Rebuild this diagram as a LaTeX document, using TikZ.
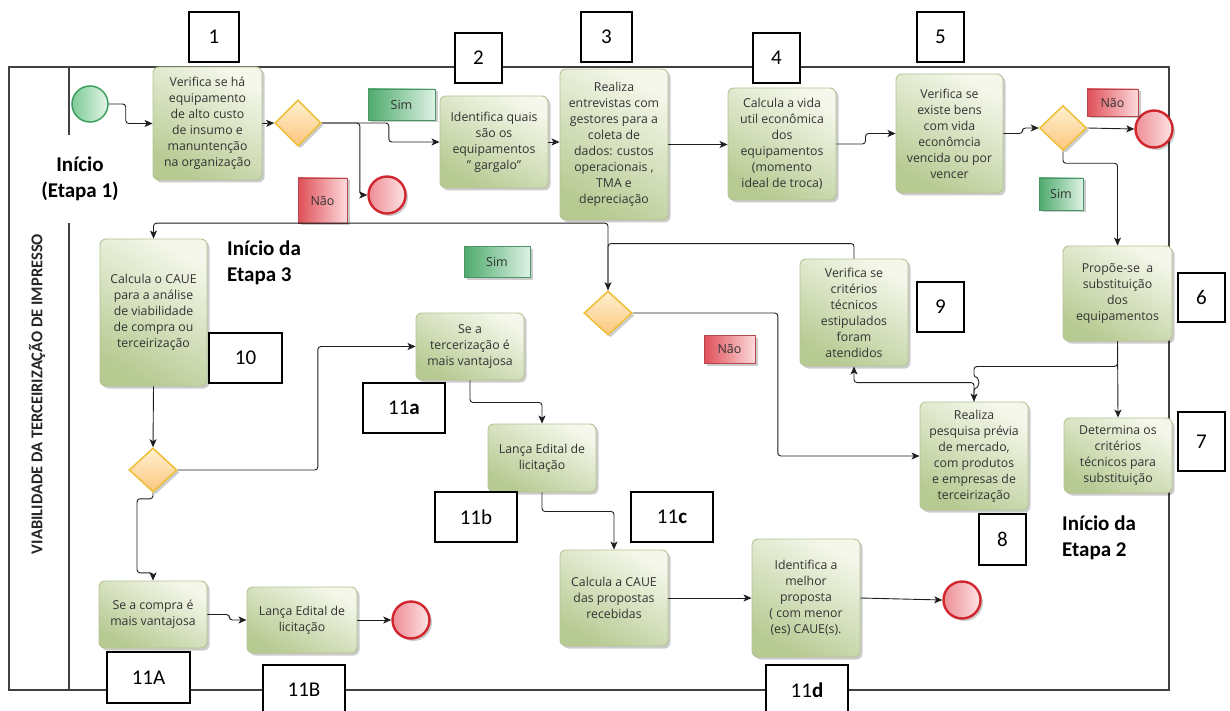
\documentclass[tikz,border=0pt]{standalone}
\usepackage{fontspec}
\setmainfont{Open Sans}
\newfontfamily\calfont{Carlito}
\usetikzlibrary{shapes.geometric,arrows.meta,shadows,calc}

\definecolor{taskhi}{HTML}{F4F7EA}
\definecolor{tasklo}{HTML}{B7CA92}
\definecolor{taskline}{HTML}{B3C393}
\definecolor{gwhi}{HTML}{FFF1D0}
\definecolor{gwlo}{HTML}{FBC67E}
\definecolor{gwline}{HTML}{EEC03C}
\definecolor{starthi}{HTML}{E6F6EA}
\definecolor{startlo}{HTML}{7CCB95}
\definecolor{startline}{HTML}{3E9F5E}
\definecolor{endhi}{HTML}{FDE3E4}
\definecolor{endlo}{HTML}{EE8E95}
\definecolor{endline}{HTML}{D2262F}
\definecolor{simhi}{HTML}{DDF2E4}
\definecolor{simlo}{HTML}{4DAA6C}
\definecolor{simline}{HTML}{4C9467}
\definecolor{naohi}{HTML}{FCDADC}
\definecolor{naolo}{HTML}{DF4F57}
\definecolor{naoline}{HTML}{B5464C}
\definecolor{flowline}{HTML}{1E1E1E}
\definecolor{poolline}{HTML}{404040}

\begin{document}
\begin{tikzpicture}[x=1pt,y=-1pt,
  shadowed/.style={drop shadow={shadow xshift=2.5pt,shadow yshift=-2.5pt,opacity=0.2,fill=black}},
  task/.style={shadowed, draw=taskline, line width=0.9pt, rounded corners=6pt,
    shading=axis, top color=taskhi, bottom color=tasklo, shading angle=-30,
    align=center, inner sep=2pt, text=black!80,
    font=\fontsize{12.3}{16}\selectfont},
  gateway/.style={diamond, shadowed, draw=gwline, line width=1.6pt,
    top color=gwhi, bottom color=gwlo, inner sep=0pt},
  startev/.style={circle, draw=startline, line width=1.5pt,
    left color=startlo, right color=starthi, minimum size=36pt, inner sep=0pt},
  endev/.style={circle, shadowed, draw=endline, line width=2.4pt,
    left color=endlo, right color=endhi, minimum size=37pt, inner sep=0pt},
  simlbl/.style={shadowed, draw=simline, line width=0.7pt,
    left color=simlo, right color=simhi, inner sep=0pt,
    font=\fontsize{12.5}{14}\selectfont, text=black!80},
  naolbl/.style={shadowed, draw=naoline, line width=0.7pt,
    left color=naolo, right color=naohi, inner sep=0pt,
    font=\fontsize{12.5}{14}\selectfont, text=black!80},
  numbox/.style={draw=black, line width=1.1pt, fill=white, inner sep=0pt,
    font=\calfont\fontsize{21}{24}\selectfont},
  heading/.style={font=\calfont\bfseries\fontsize{21}{26}\selectfont, inner sep=1pt},
  flow/.style={draw=flowline, line width=0.9pt, rounded corners=3pt,
    -{Stealth[length=8pt,width=7pt,inset=2pt]}}
]
\useasboundingbox (0,0) rectangle (1230,711);

% pool and lane
\draw[poolline, line width=1.1pt] (9,67) rectangle (1169,690);
\draw[poolline, line width=1.1pt] (69,67) -- (69,690);
\node[rotate=90, font=\calfont\bfseries\fontsize{16.5}{20}\selectfont, text=black!85]
  (poolname) at (37,394) {VIABILIDADE DA TERCEIRIZAÇÃO DE IMPRESSO};

% stage headings
\node[heading, fill=white, align=center, minimum height=88pt] (stage1) at (80,179) {Início\\(Etapa 1)};
\node[heading, align=left, anchor=north west] (stage3) at (226,240) {Início da\\Etapa 3};
\node[heading, align=left, anchor=north west] (stage2) at (1061,515) {Início da\\Etapa 2};

% events
\node[startev] (s) at (90,104) {};
\node[endev] (e1) at (387,195) {};
\node[endev] (e2) at (1154,129) {};
\node[endev] (e3) at (411,620) {};
\node[endev] (e4) at (962,600) {};

% gateways
\node[gateway, minimum width=46pt, minimum height=46pt] (g1) at (298,123) {};
\node[gateway, minimum width=47pt, minimum height=45pt] (g2) at (1063,128) {};
\node[gateway, minimum width=48pt, minimum height=44pt] (g3) at (608,313) {};
\node[gateway, minimum width=48pt, minimum height=44pt] (g4) at (153,470) {};

% tasks
\node[task, minimum width=109pt, minimum height=113pt] (t1) at (207.5,123.5)
  {Verifica se há\\equipamento\\de alto custo\\de insumo e\\manuntenção\\na organização};
\node[task, minimum width=108pt, minimum height=92pt] (t2) at (494,142)
  {Identifica quais\\são os\\equipamentos\\" gargalo"};
\node[task, minimum width=108pt, minimum height=151pt] (t3) at (614,144.5)
  {Realiza\\entrevistas com\\gestores para a\\coleta de\\dados: custos\\operacionais ,\\TMA e\\depreciação};
\node[task, minimum width=108pt, minimum height=112pt] (t4) at (782,144)
  {Calcula a vida\\util econômica\\dos\\equipamentos\\(momento\\ideal de troca)};
\node[task, minimum width=107pt, minimum height=119pt] (t5) at (949.5,133.5)
  {Verifica se\\existe bens\\com vida\\econômcia\\vencida ou por\\vencer};
\node[task, minimum width=109pt, minimum height=95pt] (t6) at (1117.5,293.5)
  {Propõe-se~ a\\substituição\\dos\\equipamentos};
\node[task, minimum width=108pt, minimum height=75pt] (t7) at (1118,455.5)
  {Determina os\\critérios\\técnicos para\\substituição};
\node[task, minimum width=108pt, minimum height=108pt] (t8) at (974,456)
  {Realiza\\pesquisa prévia\\de mercado,\\com produtos\\e empresas de\\terceirização};
\node[task, minimum width=108pt, minimum height=107pt] (t9) at (854,312.5)
  {Verifica se\\critérios\\técnicos\\estipulados\\foram\\atendidos};
\node[task, minimum width=107pt, minimum height=147pt] (t10) at (153.5,312.5)
  {Calcula o CAUE\\para a análise\\de viabilidade\\de compra ou\\terceirização};
\node[task, minimum width=108pt, minimum height=67pt] (t11a) at (470,346.5)
  {Se a\\tercerização é\\mais vantajosa};
\node[task, minimum width=108pt, minimum height=68pt] (t11b) at (542,458)
  {Lança Edital de\\licitação};
\node[task, minimum width=108pt, minimum height=96pt] (t11c) at (614,598)
  {Calcula a CAUE\\das propostas\\recebidas};
\node[task, minimum width=108pt, minimum height=118pt] (t11d) at (806,598)
  {Identifica a\\melhor\\proposta\\( com menor\\(es) CAUE(s).};
\node[task, minimum width=108pt, minimum height=67pt] (t11A) at (153,614.5)
  {Se a compra é\\mais vantajosa};
\node[task, minimum width=110pt, minimum height=66pt] (t11B) at (302,620)
  {Lança Edital de\\licitação};

% branch labels
\node[simlbl, minimum width=67pt, minimum height=31pt] (sim1) at (401.5,104.5) {Sim};
\node[naolbl, minimum width=49pt, minimum height=45pt] (nao1) at (322.5,200.5) {Não};
\node[naolbl, minimum width=51pt, minimum height=27pt] (nao2) at (1112.5,102.5) {Não};
\node[simlbl, minimum width=44pt, minimum height=32pt] (sim2) at (1061,194) {Sim};
\node[simlbl, minimum width=66pt, minimum height=31pt] (sim3) at (497,261.5) {Sim};
\node[naolbl, minimum width=51pt, minimum height=28pt] (nao3) at (729.5,349) {Não};

% connectors
\draw[flow] (s.east) -- ++(17,0) |- (t1.west);
\draw[flow] (t1.east) -- (g1.west);
\draw[flow] (g1.east) -- ++(38,0) |- (e1.west);
\draw[flow] (g1.east) -- ++(67,0) |- (t2.west);
\draw[flow] (t2.east) -- (t3.west |- t2.east);
\draw[flow] (t3.east) -- (t4.west |- t3.east);
\draw[flow] (t4.east) -- ++(29,0) |- (t5.west);
\draw[flow] (t5.east) -- ++(19,0) |- (g2.west);
\draw[flow] (g2.east) -- (e2.west);
\draw[flow] (g2.south) -- ++(0,12) -| (t6.north);
\draw[flow] (t6.south) -- (t7.north);
\draw[flow] (t6.south) -- ++(0,25) -| ($(t8.north)+(0,-24)$)
  arc[start angle=-90, end angle=90, radius=5] -- (t8.north);
\draw[flow] (t8.north) -- ++(0,-19) -| (t9.south);
\draw[flow] (t9.north) -- ++(0,-15) -| (g3.north);
\draw[flow] (g3.north) -- ++(0,-67) -| (t10.north);
\draw[flow] (g3.east) -- ++(145,0) |- (t8.west);
\draw[flow] (t10.south) -- (g4.north);
\draw[flow] (g4.east) -- ++(140,0) |- (t11a.west);
\draw[flow] (t11a.south) -- ++(0,22) -| (t11b.north);
\draw[flow] (t11b.south) -- ++(0,19) -| (t11c.north);
\draw[flow] (t11c.east) -- (t11d.west);
\draw[flow] (t11d.east) -- (e4.west);
\draw[flow] (g4.south) -- ++(0,6) -- ++(-16,0) -- ++(0,74) -- ++(16,0) -- (t11A.north);
\draw[flow] (t11A.east) -- ++(22,0) |- (t11B.west);
\draw[flow] (t11B.east) -- (e3.west);

% step numbers
\node[numbox, minimum width=50pt, minimum height=50pt] (n1) at (214,37) {1};
\node[numbox, minimum width=47pt, minimum height=50pt] (n2) at (478.5,58) {2};
\node[numbox, minimum width=51pt, minimum height=50pt] (n3) at (606.5,37) {3};
\node[numbox, minimum width=47pt, minimum height=50pt] (n4) at (776.5,58) {4};
\node[numbox, minimum width=47pt, minimum height=50pt] (n5) at (940.5,37) {5};
\node[numbox, minimum width=47pt, minimum height=49pt] (n6) at (1201.5,297.5) {6};
\node[numbox, minimum width=47pt, minimum height=59pt] (n7) at (1201.5,441.5) {7};
\node[numbox, minimum width=47pt, minimum height=51pt] (n8) at (1002.5,539.5) {8};
\node[numbox, minimum width=47pt, minimum height=50pt] (n9) at (940.5,307) {9};
\node[numbox, minimum width=73pt, minimum height=50pt] (n10) at (245.5,358) {10};
\node[numbox, minimum width=82pt, minimum height=50pt] (n11a) at (404,408) {11\textbf{a}};
\node[numbox, minimum width=82pt, minimum height=50pt] (n11b) at (476,517) {11b};
\node[numbox, minimum width=82pt, minimum height=50pt] (n11c) at (672,517) {11\textbf{c}};
\node[numbox, minimum width=82pt, minimum height=50pt] (n11d) at (807,690) {11\textbf{d}};
\node[numbox, minimum width=83pt, minimum height=51pt] (n11A) at (148.5,677.5) {11A};
\node[numbox, minimum width=82pt, minimum height=50pt] (n11B) at (304,690) {11B};
\end{tikzpicture}
\end{document}
